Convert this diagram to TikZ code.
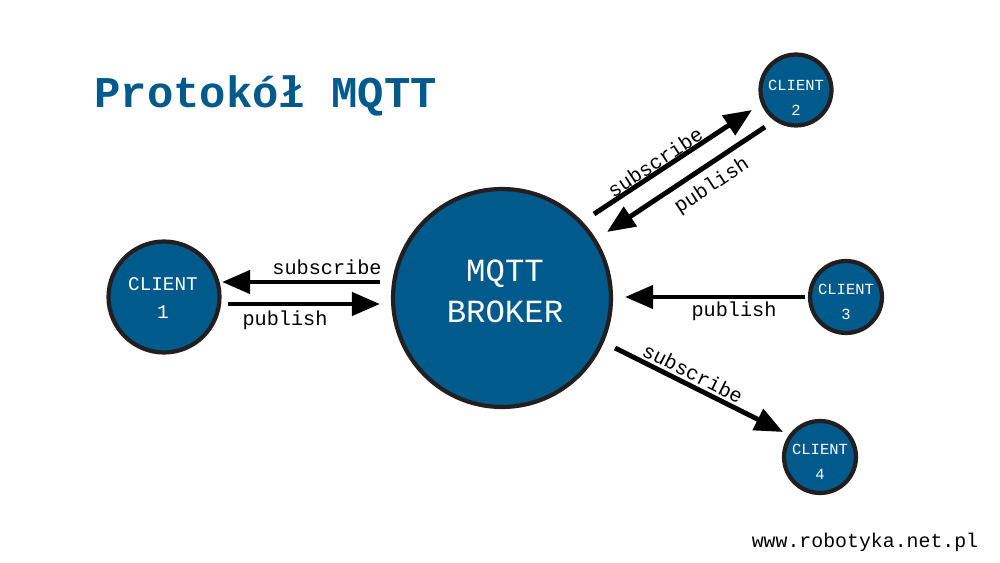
\documentclass[tikz,border=0pt]{standalone}
\usepackage{fontspec}
\setmainfont{Liberation Sans}
\setmonofont{Liberation Mono}
\usetikzlibrary{arrows.meta}
\definecolor{mblue}{HTML}{005A8C}
\definecolor{mrim}{HTML}{231F20}
\begin{document}
\begin{tikzpicture}[x=0.02cm,y=-0.02cm,
  cl/.style={circle,fill=mblue,draw=mrim,line width=2.4pt,inner sep=0pt,text=white,font=\ttfamily,align=center},
  arr/.style={line width=2.8pt,-{Stealth[length=16pt,width=13pt,inset=0pt]}},
  lbl/.style={font=\ttfamily\fontsize{11.5}{13}\selectfont,inner sep=0pt}]
\useasboundingbox (0,0) rectangle (1000,563);
\fill[white] (0,0) rectangle (1000,563);
\node[font=\ttfamily\bfseries\fontsize{25}{30}\selectfont,text=mblue,anchor=base west,inner sep=0pt] (title) at (94,108) {Protokół MQTT};
\node[cl,minimum size=4.36cm] (b) at (502,298) {};
\node[font=\ttfamily\fontsize{18.4}{23.5}\selectfont,text=white,align=center,inner sep=0pt] (tb) at (505,291) {MQTT\\BROKER};
\node[cl,minimum size=2.22cm] (c1) at (164,297) {};
\node[font=\ttfamily\fontsize{11}{16}\selectfont,text=white,align=center,inner sep=0pt] (t1) at (163,298) {CLIENT\\1};
\node[cl,minimum size=1.42cm] (c2) at (796,90) {};
\node[font=\ttfamily\fontsize{8.8}{14}\selectfont,text=white,align=center,inner sep=0pt] (t2) at (796,98) {CLIENT\\2};
\node[cl,minimum size=1.44cm] (c3) at (846,297) {};
\node[font=\ttfamily\fontsize{8.8}{14}\selectfont,text=white,align=center,inner sep=0pt] (t3) at (846,302) {CLIENT\\3};
\node[cl,minimum size=1.44cm] (c4) at (820,457) {};
\node[font=\ttfamily\fontsize{8.8}{14}\selectfont,text=white,align=center,inner sep=0pt] (t4) at (820,462) {CLIENT\\4};
\coordinate (a1s) at (380,282); \coordinate (a1e) at (222,282);
\coordinate (a2s) at (228,304); \coordinate (a2e) at (380,304);
\coordinate (a3s) at (594,214); \coordinate (a3e) at (752,110);
\coordinate (a4s) at (765,127); \coordinate (a4e) at (607,232);
\coordinate (a5s) at (805,297); \coordinate (a5e) at (625,297);
\coordinate (a6s) at (615,348); \coordinate (a6e) at (783,432);
\draw[arr] (a1s) -- (a1e);
\draw[arr] (a2s) -- (a2e);
\draw[arr] (a3s) -- (a3e);
\draw[arr] (a4s) -- (a4e);
\draw[arr] (a5s) -- (a5e);
\draw[arr] (a6s) -- (a6e);
\node[lbl] (l1) at (327,267) {subscribe};
\node[lbl] (l2) at (285,320) {publish};
\node[lbl,rotate=33.4] (l3) at (655,162) {subscribe};
\node[lbl,rotate=33.4] (l4) at (712,186) {publish};
\node[lbl] (l5) at (734,311) {publish};
\node[lbl,rotate=-26.6] (l6) at (693,373) {subscribe};
\node[lbl,font=\ttfamily\fontsize{11.3}{13}\selectfont] (web) at (865,542) {www.robotyka.net.pl};
\end{tikzpicture}
\end{document}
